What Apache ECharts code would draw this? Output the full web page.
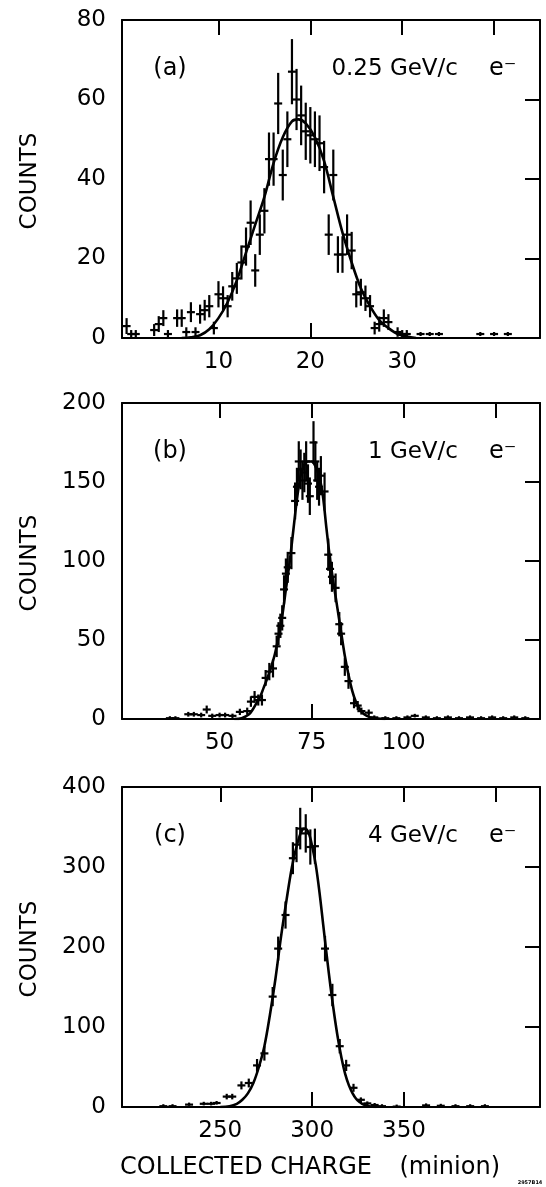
<!DOCTYPE html>
<html>
<head>
<meta charset="utf-8">
<script src="https://cdn.jsdelivr.net/npm/echarts@6/dist/echarts.min.js"></script>
<style>
html,body{margin:0;padding:0;background:#fff;}
#chart{width:546px;height:1187px;}
</style>
</head>
<body>
<div id="chart"></div>
<script>
// ---------- Panel (a): 0.25 GeV/c ----------
const aX   = [0,0.5,1,3,3.5,4,4.5,5.5,6,6.5,7,7.5,8,8.5,9,9.5,10,10.5,11,11.5,12,12.5,13,13.5,14,14.5,15,15.5,16,16.5,17,17.5,18,18.5,19,19.5,20,20.5,21,21.5,22,22.5,23,23.5,24,24.5,25,25.5,26,26.5,27,27.5,28,28.5,29.5,30,30.5,32,33,34,38.5,40,41.5];
const aY   = [3,1,1,2,3.5,5,1,5,5,1.5,6.5,1.5,6,7,8,2.5,11,10,8,13,15,19,23,29,17,26,32,45,45,59,41,50,67,60,56,52,51,50,49,43,26,41,21,21,26,22,11,11.5,10,8,2.5,3.5,5,4,1.5,1,1,1,1,1,1,1,1];
const aErr = [2,1,1,1.5,2,2,1,2.2,2.2,1.2,2.5,1.2,2.4,2.6,2.8,1.6,3.3,3,2.8,3.6,3.9,4.3,4.8,5.6,4.1,5.1,5.7,6.7,6.7,7.7,6.4,7,8.2,7.7,7.5,7.2,7.1,7,7,6.6,5.1,6.4,4.6,4.6,5.1,4.7,3.3,3.4,3.2,2.8,1.6,1.9,2.2,2,1.2,1,1,0.5,0.5,0.5,0.5,0.5,0.5];
const aFit = [[6,0],[7,0.2],[8,0.7],[9,2.2],[10,5],[11,9],[12,14.5],[13,21.5],[14,28.5],[15,35.5],[16,44],[17,50.5],[18,54.5],[18.7,55],[19.5,54],[20.5,50.5],[21.5,44.5],[22.5,35.5],[23.5,26.5],[24.5,19],[25.5,12.5],[26.5,8],[27.5,4.5],[28.5,2.5],[29.5,1],[30.5,0.4],[31.5,0]];

// ---------- Panel (b): 1 GeV/c ----------
const bX   = [36.5,38,41.5,43,45,46.5,48,50,51.5,53.5,55.5,57.5,58.5,59.5,60.5,61.5,62.5,63.5,64.5,65.5,66,66.5,67,67.5,68,68.5,69.5,70.5,71,71.5,72,72.5,73,73.5,74,74.5,75.5,76,76.5,77,77.5,78.5,79.5,80,80.5,81.5,82.5,83,84,85,86.5,87.5,88.5,90.5,92,95,98,101,103,106,109,112,115,118,121,124,127,130,133];
const bY   = [0.5,0.5,3,3,2.5,6,2,2.5,2.5,2,4.5,5,11,14,12,12,26,30,32,46,54,59,64,82,92,96,105,138,147,163,158,151,156,163,149,141,175,163,151,147,154,144,104,95,90,83,60,54,33,24,10,8.5,5,4,1,0.5,0.5,1,2,1,0.5,1,0.5,1,0.5,1,0.5,1,0.5];
const bErr = [0,0,1.5,1.5,1.5,2.5,1.4,1.5,1.5,1.4,2,2.2,3.3,3.7,3.5,3.5,5,5.5,5.7,6.8,7.3,7.7,8,9,9.6,9.8,10.2,11.7,12,12.8,12.6,12.3,12.5,12.8,12.2,11.9,13.5,12.8,12.3,12,12.4,12,10.2,9.7,9.5,9.1,7.7,7.3,5.7,4.9,3.2,2.9,2.2,2,1,0,0,0,1,0,0,0,0,0,0,0,0,0,0];
const bFit = [[54,0],[56,0.5],[58,3],[59,6],[60,10],[61,14],[62,20],[63,26],[64,33],[65,41],[66,52],[67,65],[68,82],[69,99],[70,119],[71,139],[72,154],[73,161],[74,163],[75,163],[76,160],[77,154],[78,142],[79,121],[80,101],[81,85],[82,70],[83,55],[84,40],[85,28],[86,18],[87,11],[88,6.5],[89,3.5],[90,2],[91,1],[93,0.3],[95,0]];

// ---------- Panel (c): 4 GeV/c ----------
const cX   = [219,224,233,241,245,248,253.5,256.5,261.5,265.5,270,274,278.5,281.5,285.5,289.5,291.5,293.5,296.5,299,301.5,307,311,315,318.5,322.5,326.5,330,334,338,346,362,370,378,386,394];
const cY   = [1,1,3,4,4,5,13,13,27,30,52,67,138,198,240,311,328,348,342,325,326,198,140,76,52,24,9,4.5,2.5,1,0.5,2,1.5,1,1,1];
const cErr = [0,0,1.5,2,2,2,3.5,3.5,5,5.5,8,9,12,15,17,20,22,26,24,22,22,16,14,9,7,5,3,2,1.5,0,0,0,0,0,0,0];
const cFit = [[250,0],[255,1],[259,4],[262,9],[265,17],[268,30],[271,50],[274,76],[277,115],[280,160],[283,212],[286,258],[289,300],[292,330],[294.5,346],[296,348],[298,343],[300,326],[302,302],[304,268],[306,228],[308,188],[310,150],[312,116],[314,86],[316,61],[318,41],[320,27],[322,17],[324,10],[326,6],[328,3],[331,1],[335,0]];

// ---------- axis ranges & tick labels ----------
const xRanges   = [[-0.5,45],[23.5,137],[196.5,424]];
const yMax      = [80,200,400];
const xLabels   = [[10,20,30],[50,75,100],[250,300,350]];
const xTopTicks = [[10,20,30,40],[50,75,100,125],[250,300,350,400]];
const xBotTicks = [[20],[75],[300,350]];
const yLabels   = [[0,20,40,60,80],[0,50,100,150,200],[0,100,200,300,400]];
const yRightTicks = [[20,40,60],[50,100,150],[100,200,300]];
const momenta   = ['0.25 GeV/c','1 GeV/c','4 GeV/c'];
const panelTags = ['(a)','(b)','(c)'];
const xTitle    = 'COLLECTED CHARGE';
const xUnit     = '(minion)';
const yTitle    = 'COUNTS';

const FONT = 'DejaVu Sans';
const grids = [
  {left:122, width:418, top:20,  height:318},
  {left:122, width:418, top:403, height:316},
  {left:122, width:418, top:787, height:320}
];

const chart = echarts.init(document.getElementById('chart'), null, {renderer:'canvas'});

const line2 = {color:'#000', width:2};
const xAxes = [], yAxes = [], series = [], graphics = [];

const sets = [[aX,aY,aErr,aFit],[bX,bY,bErr,bFit],[cX,cY,cErr,cFit]];

for (let i=0;i<3;i++){
  const [mn,mx] = xRanges[i];
  xAxes.push({
    type:'value', gridIndex:i, position:'bottom', min:mn, max:mx,
    axisLine:{show:true, onZero:false, lineStyle:line2},
    axisTick:{show:true, inside:true, length:15, customValues:xBotTicks[i], lineStyle:line2},
    axisLabel:{show:true, customValues:xLabels[i], color:'#000', fontSize:23, fontFamily:FONT, margin:13},
    splitLine:{show:false}
  });
  xAxes.push({
    type:'value', gridIndex:i, position:'top', min:mn, max:mx,
    axisLine:{show:true, onZero:false, lineStyle:line2},
    axisTick:{show:true, inside:true, length:15, customValues:xTopTicks[i], lineStyle:line2},
    axisLabel:{show:false},
    splitLine:{show:false}
  });
  yAxes.push({
    type:'value', gridIndex:i, position:'left', min:0, max:yMax[i],
    axisLine:{show:true, onZero:false, lineStyle:line2},
    axisTick:{show:false},
    axisLabel:{show:true, customValues:yLabels[i], color:'#000', fontSize:23, fontFamily:FONT, margin:16},
    splitLine:{show:false}
  });
  yAxes.push({
    type:'value', gridIndex:i, position:'right', min:0, max:yMax[i],
    axisLine:{show:true, onZero:false, lineStyle:line2},
    axisTick:{show:true, inside:true, length:15, customValues:yRightTicks[i], lineStyle:line2},
    axisLabel:{show:false},
    splitLine:{show:false}
  });

  const [xs,ys,es,fit] = sets[i];
  const pts = xs.map((x,k)=>[x, ys[k], es[k]]);
  series.push({
    type:'custom', xAxisIndex:2*i, yAxisIndex:2*i, data:pts, silent:true,
    renderItem:function(params, api){
      const x = api.value(0), y = api.value(1), e = api.value(2);
      const c  = api.coord([x,y]);
      const lo = api.coord([x,Math.max(0,y-e)]);
      const hi = api.coord([x,y+e]);
      const hw = 4;
      const st = {stroke:'#000', lineWidth:2.2};
      return {type:'group', children:[
        {type:'line', shape:{x1:c[0], y1:lo[1], x2:c[0], y2:Math.min(hi[1], c[1]-2)}, style:st},
        {type:'line', shape:{x1:c[0]-hw, y1:c[1], x2:c[0]+hw, y2:c[1]}, style:st}
      ]};
    },
    z:3
  });
  series.push({
    type:'line', xAxisIndex:2*i, yAxisIndex:2*i, data:fit, showSymbol:false, symbol:'none',
    smooth:0.35, lineStyle:{color:'#000', width:2.6}, silent:true, z:4
  });

  const g = grids[i];
  const ty = g.top + 49;
  graphics.push({type:'text', x:170, y:ty, style:{text:panelTags[i], font:'24px "'+FONT+'"', fill:'#000', align:'center', verticalAlign:'middle', textAlign:'center', textVerticalAlign:'middle'}});
  graphics.push({type:'text', x:458, y:ty, style:{text:momenta[i], font:'23px "'+FONT+'"', fill:'#000', align:'right', verticalAlign:'middle', textAlign:'right', textVerticalAlign:'middle'}});
  graphics.push({type:'text', x:489, y:ty, style:{text:'e\u207B', font:'24px "'+FONT+'"', fill:'#000', align:'left', verticalAlign:'middle', textAlign:'left', textVerticalAlign:'middle'}});
  graphics.push({type:'text', x:30, y:g.top + g.height/2 + 2, rotation:Math.PI/2,
    style:{text:yTitle, font:'23px "'+FONT+'"', fill:'#000', align:'center', verticalAlign:'middle', textAlign:'center', textVerticalAlign:'middle'}});
}

graphics.push({type:'text', x:120, y:1168, style:{text:xTitle, font:'24px "'+FONT+'"', fill:'#000', align:'left', verticalAlign:'middle', textAlign:'left', textVerticalAlign:'middle'}});
graphics.push({type:'text', x:500, y:1168, style:{text:xUnit, font:'24px "'+FONT+'"', fill:'#000', align:'right', verticalAlign:'middle', textAlign:'right', textVerticalAlign:'middle'}});
graphics.push({type:'text', x:530, y:1183, style:{text:'2957B14', font:'bold 5px "'+FONT+'"', fill:'#000', align:'center', verticalAlign:'middle', textAlign:'center', textVerticalAlign:'middle'}});

chart.setOption({
  animation:false,
  backgroundColor:'#fff',
  grid:grids.map(g=>Object.assign({containLabel:false, show:false}, g)),
  xAxis:xAxes,
  yAxis:yAxes,
  series:series,
  graphic:graphics
});
</script>
</body>
</html>
